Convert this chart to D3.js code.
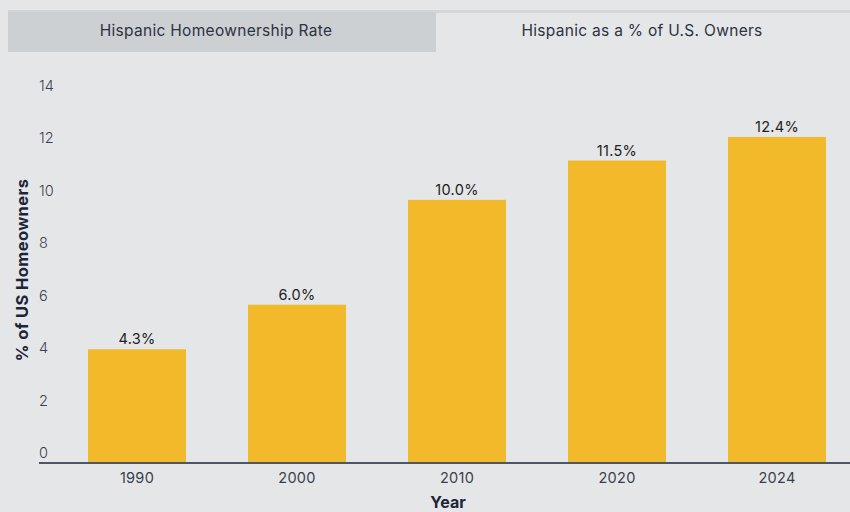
<!DOCTYPE html>
<html>
<head>
<meta charset="utf-8">
<script src="https://cdn.jsdelivr.net/npm/d3@7"></script>
<style>
  body { margin: 0; background: #e5e6e8; }
  svg { display: block; font-family: "Inter", "Noto Sans", sans-serif; }
</style>
</head>
<body>
<svg id="chart" width="850" height="512"></svg>
<script>
'use strict';

var years = ['1990', '2000', '2010', '2020', '2024'];
var shares = [4.3, 6.0, 10.0, 11.5, 12.4];
var yTicks = [0, 2, 4, 6, 8, 10, 12, 14];
var tabs = ['Hispanic Homeownership Rate', 'Hispanic as a % of U.S. Owners'];

var svg = d3.select('#chart');

// tabs
svg.append('rect').attr('x', 0).attr('y', 0).attr('width', 850).attr('height', 512).attr('fill', '#e5e6e8');
svg.append('rect').attr('x', 8).attr('y', 10).attr('width', 842).attr('height', 3).attr('fill', '#d3d5d8');
svg.append('rect').attr('x', 8).attr('y', 12).attr('width', 428).attr('height', 40).attr('fill', '#cdd0d3');

var tabX = d3.scaleBand().domain(tabs).range([8, 860]);
svg.selectAll('.tab').data(tabs).enter().append('text')
  .attr('x', function (d) { return tabX(d) + tabX.bandwidth() / 2 - 5; })
  .attr('y', 36)
  .attr('text-anchor', 'middle')
  .attr('font-size', 15.5)
  .attr('letter-spacing', 0.3)
  .attr('fill', '#2c3342')
  .text(function (d) { return d; });

var x = d3.scaleBand().domain(years).range([57, 857]).paddingInner(0.3875).paddingOuter(0.19375);
var y = d3.scaleLinear().domain([0, 14]).range([462, 95]);

// y tick labels sit just above their value
svg.selectAll('.ytick').data(yTicks).enter().append('text')
  .attr('x', 39)
  .attr('y', function (d) { return y(d) - 4; })
  .attr('font-size', 14.5)
  .attr('font-weight', 300)
  .attr('fill', '#3a3f4e')
  .text(function (d) { return d; });

svg.selectAll('.bar').data(shares).enter().append('rect')
  .attr('x', function (d, i) { return x(years[i]); })
  .attr('y', function (d) { return y(d); })
  .attr('width', x.bandwidth())
  .attr('height', function (d) { return y(0) - y(d); })
  .attr('fill', '#f2b92b');

svg.selectAll('.val').data(shares).enter().append('text')
  .attr('x', function (d, i) { return x(years[i]) + x.bandwidth() / 2; })
  .attr('y', function (d) { return y(d) - 5; })
  .attr('text-anchor', 'middle')
  .attr('font-size', 14.5)
  .attr('letter-spacing', 0.3)
  .attr('fill', '#222')
  .text(function (d) { return d.toFixed(1) + '%'; });

svg.append('line')
  .attr('x1', 39).attr('x2', 850)
  .attr('y1', y(0) + 1).attr('y2', y(0) + 1)
  .attr('stroke', '#4e5566').attr('stroke-width', 2);

svg.selectAll('.xtick').data(years).enter().append('text')
  .attr('x', function (d) { return x(d) + x.bandwidth() / 2; })
  .attr('y', 483)
  .attr('text-anchor', 'middle')
  .attr('font-size', 14.5)
  .attr('letter-spacing', 0.3)
  .attr('fill', '#3a3f4e')
  .text(function (d) { return d; });

svg.append('text')
  .attr('x', 448).attr('y', 508)
  .attr('text-anchor', 'middle')
  .attr('font-size', 16).attr('font-weight', 'bold')
  .attr('fill', '#1c2538')
  .text('Year');

svg.append('text')
  .attr('transform', 'translate(28,270) rotate(-90)')
  .attr('text-anchor', 'middle')
  .attr('font-size', 16.5).attr('font-weight', 'bold')
  .attr('letter-spacing', 0.4)
  .attr('fill', '#1c2538')
  .text('% of US Homeowners');
</script>
</body>
</html>
